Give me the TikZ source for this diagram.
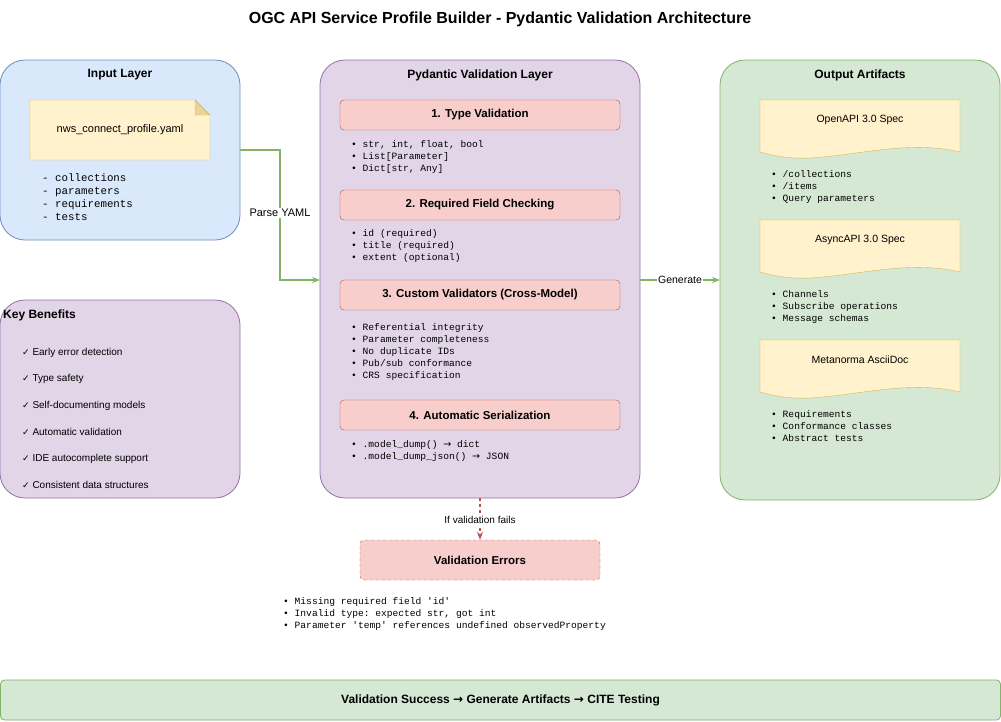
\documentclass[tikz,border=0pt]{standalone}
\usepackage{fontspec}
\usetikzlibrary{arrows.meta}
\setmainfont{Liberation Sans}
\setmonofont{Liberation Mono}
\newfontfamily\dejavu{DejaVu Sans}
\newcommand{\rarr}{{\dejavu →}}
\definecolor{blueF}{HTML}{DAE8FC}\definecolor{blueS}{HTML}{6C8EBF}
\definecolor{purF}{HTML}{E1D5E7}\definecolor{purS}{HTML}{9673A6}
\definecolor{grnF}{HTML}{D5E8D4}\definecolor{grnS}{HTML}{82B366}
\definecolor{redF}{HTML}{F8CECC}\definecolor{redS}{HTML}{B85450}
\definecolor{yelF}{HTML}{FFF2CC}\definecolor{yelS}{HTML}{D6B656}
\begin{document}
\begin{tikzpicture}[x=1pt,y=-1pt,
  lay/.style={draw,rounded corners=25pt,line width=0.8pt},
  ttl/.style={font=\bfseries\fontsize{12}{14}\selectfont},
  vstep/.style={draw=redS,fill=redF,rounded corners=4pt,minimum width=280pt,minimum height=30pt,font=\bfseries\fontsize{11.5}{14}\selectfont},
  lst/.style={anchor=north west,align=left,font=\ttfamily\fontsize{9.6}{12}\selectfont,inner sep=0pt},
  doc/.style={draw=yelS,fill=yelF},
  dtx/.style={font=\fontsize{11}{13}\selectfont},
  ben/.style={anchor=west,font=\fontsize{10}{12}\selectfont,inner sep=0pt},
  lbl/.style={fill=white,font=\fontsize{11}{13}\selectfont,inner sep=1pt}]
\path[fill=white] (0,0) rectangle (1001,721);
\useasboundingbox (0,0) rectangle (1001,721);
\node[font=\bfseries\fontsize{16}{18}\selectfont] (title) at (500,19) {OGC API Service Profile Builder - Pydantic Validation Architecture};
% Input layer
\draw[lay,draw=blueS,fill=blueF] (0,60) rectangle (240,240);
\node[ttl] (inT) at (120,75) {Input Layer};
\draw[doc] (30,100) -- (195,100) -- (210,115) -- (210,160) -- (30,160) -- cycle;
\draw[doc,fill=yelS!50!yelF] (195,100) -- (195,115) -- (210,115) -- cycle;
\node[dtx] (yaml) at (120,130) {nws\_connect\_profile.yaml};
\node[lst,font=\ttfamily\fontsize{10.8}{13}\selectfont] (inL) at (42,173) {- collections\\- parameters\\- requirements\\- tests};
\coordinate (inOut) at (240,150);
% Key benefits
\draw[lay,draw=purS,fill=purF] (0,300) rectangle (240,498);
\node[ttl,anchor=west,inner sep=0pt] (kbT) at (3,315) {Key Benefits};
\foreach \t [count=\i] in {Early error detection,Type safety,Self-documenting models,Automatic validation,IDE autocomplete support,Consistent data structures}
  \node[ben] (b\i) at (22,{353+26.4*(\i-1)}) {{\dejavu\fontsize{9}{11}\selectfont ✓} \t};
% Pydantic
\draw[lay,draw=purS,fill=purF] (320,60) rectangle (640,498);
\node[ttl] (pyT) at (480,75) {Pydantic Validation Layer};
\node[vstep] (s1) at (480,115) {1. Type Validation};
\node[vstep] (s2) at (480,205) {2. Required Field Checking};
\node[vstep] (s3) at (480,295) {3. Custom Validators (Cross-Model)};
\node[vstep] (s4) at (480,415) {4. Automatic Serialization};
\node[lst] (l1) at (351,140) {• str, int, float, bool\\• List[Parameter]\\• Dict[str, Any]};
\node[lst] (l2) at (351,229) {• id (required)\\• title (required)\\• extent (optional)};
\node[lst] (l3) at (351,323) {• Referential integrity\\• Parameter completeness\\• No duplicate IDs\\• Pub/sub conformance\\• CRS specification};
\node[lst] (l4) at (351,440) {• .model\_dump() \rarr\ dict\\• .model\_dump\_json() \rarr\ JSON};
\coordinate (pyIn) at (320,280);
\coordinate (pyOut) at (640,280);
\coordinate (pyBot) at (480,498);
% Output
\draw[lay,draw=grnS,fill=grnF] (720,60) rectangle (1000,500);
\node[ttl] (outT) at (860,75) {Output Artifacts};
\coordinate (outIn) at (720,280);
\foreach \y/\t/\n in {100/OpenAPI 3.0 Spec/d1,220/AsyncAPI 3.0 Spec/d2,340/Metanorma AsciiDoc/d3}{
  \draw[doc] (760,\y) -- (960,\y) -- (960,\y+52) .. controls (910,\y+40) and (860,\y+55) .. (810,\y+58) .. controls (790,\y+59) and (775,\y+56) .. (760,\y+52) -- cycle;
  \node[dtx,font=\fontsize{10.5}{13}\selectfont] (\n) at (860,\y+20) {\t};
}
\node[lst] (o1) at (771,170) {• /collections\\• /items\\• Query parameters};
\node[lst] (o2) at (771,290) {• Channels\\• Subscribe operations\\• Message schemas};
\node[lst] (o3) at (771,410) {• Requirements\\• Conformance classes\\• Abstract tests};
% errors
\node[draw=redS,dashed,fill=redF,rounded corners=4pt,minimum width=240pt,minimum height=40pt,font=\bfseries\fontsize{11.5}{14}\selectfont] (err) at (480,560) {Validation Errors};
\node[lst] (el) at (283,597) {• Missing required field 'id'\\• Invalid type: expected str, got int\\• Parameter 'temp' references undefined observedProperty};
% bottom
\node[draw=grnS,fill=grnF,rounded corners=4pt,minimum width=1000pt,minimum height=40pt,font=\bfseries\fontsize{12}{14}\selectfont,line width=0.8pt] (succ) at (500.5,700) {Validation Success \rarr\ Generate Artifacts \rarr\ CITE Testing};
% connectors
\draw[grnS,line width=1.2pt,-{Stealth[length=8pt]}] (inOut) -- (280,150) -- (280,280) -- (pyIn);
\node[lbl] (py) at (280,213) {Parse YAML};
\draw[grnS,line width=1.2pt,-{Stealth[length=8pt]}] (pyOut) -- (outIn);
\node[lbl,font=\fontsize{10.5}{13}\selectfont] (gen) at (680,280) {Generate};
\draw[redS,line width=1.2pt,dashed,-{Stealth[length=8pt]}] (pyBot) -- (err.north);
\node[lbl,font=\fontsize{10}{12}\selectfont] (fail) at (480,520) {If validation fails};
\end{tikzpicture}
\end{document}
